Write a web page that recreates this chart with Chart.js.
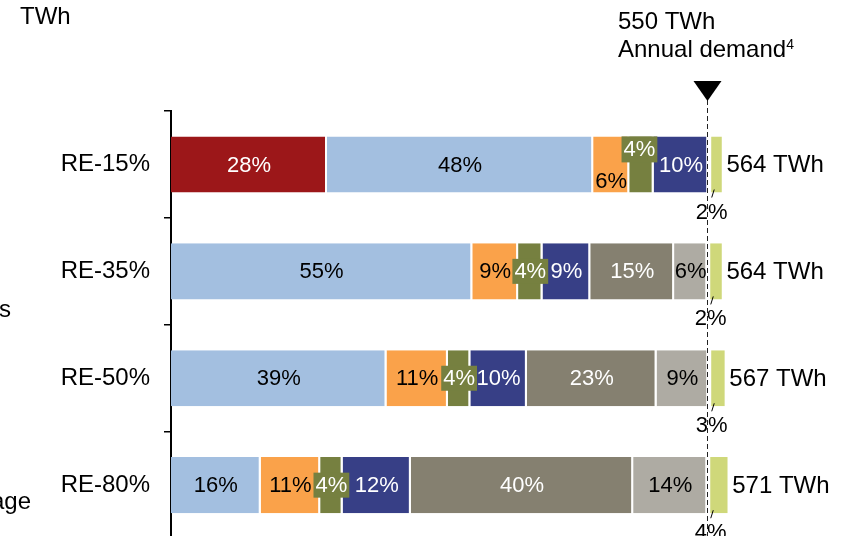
<!DOCTYPE html>
<html>
<head>
<meta charset="utf-8">
<script src="https://cdn.jsdelivr.net/npm/chart.js@4.4.1/dist/chart.umd.min.js"></script>
<style>
  html, body { margin: 0; padding: 0; background: #fff; overflow: hidden; }
  canvas { display: block; }
</style>
</head>
<body>
<canvas id="mix" width="848" height="567"></canvas>
<script>
(function () {
  const SCENARIOS = ['RE-15%', 'RE-35%', 'RE-50%', 'RE-80%'];
  const TOTALS = [564, 564, 567, 571];
  const DEMAND = 550;

  // TWh per source
  const RED = [160, null, null, null];
  const LIGHT_BLUE = [273, 309, 221, 92];
  const ORANGE = [37, 47, 63, 61];
  const OLIVE = [25, 25, 23, 23];
  const NAVY = [56, 49, 58, 70];
  const GRAY = [null, 86, 133, 228];
  const LIGHT_GRAY = [null, 34, 53, 76];
  const GREEN = [14, 15, 17, 21];

  // shares printed on the segments
  const RED_PCT = ['28%', '', '', ''];
  const LIGHT_BLUE_PCT = ['48%', '55%', '39%', '16%'];
  const ORANGE_PCT = ['6%', '9%', '11%', '11%'];
  const OLIVE_PCT = ['4%', '4%', '4%', '4%'];
  const NAVY_PCT = ['10%', '9%', '10%', '12%'];
  const GRAY_PCT = ['', '15%', '23%', '40%'];
  const LIGHT_GRAY_PCT = ['', '6%', '9%', '14%'];
  const GREEN_PCT = ['2%', '2%', '3%', '4%'];

  const FONT = "'Liberation Sans', Arial, sans-serif";

  const series = [
    { data: RED, pct: RED_PCT, color: '#9c1719', text: '#fff' },
    { data: LIGHT_BLUE, pct: LIGHT_BLUE_PCT, color: '#a3bfe0', text: '#000' },
    { data: ORANGE, pct: ORANGE_PCT, color: '#faa24a', text: '#000' },
    { data: OLIVE, pct: OLIVE_PCT, color: '#768040', text: '#fff', boxed: true },
    { data: NAVY, pct: NAVY_PCT, color: '#373f86', text: '#fff' },
    { data: GRAY, pct: GRAY_PCT, color: '#858070', text: '#fff' },
    { data: LIGHT_GRAY, pct: LIGHT_GRAY_PCT, color: '#aeaba3', text: '#000' },
    { data: GREEN, pct: GREEN_PCT, color: '#cfd87a', text: '#000', below: true },
  ];

  const datasets = series.map(s => ({
    data: s.data,
    pct: s.pct,
    textColor: s.text,
    boxed: !!s.boxed,
    below: !!s.below,
    backgroundColor: s.color,
    borderColor: '#fff',
    // green sits just past the demand line, so it gets a gap on its left
    borderSkipped: s.below ? false : 'start',
    borderWidth: s.below
      ? { top: 0, right: 0, bottom: 0, left: 3 }
      : { top: 0, right: 2, bottom: 0, left: 0 },
    barPercentage: 0.525,
    categoryPercentage: 1,
  }));

  const annotate = {
    id: 'annotate',
    afterDatasetsDraw(chart) {
      const ctx = chart.ctx;
      const xs = chart.scales.x;
      const dx = Math.round(xs.getPixelForValue(DEMAND)) + 0.5;
      ctx.save();

      // demand line + marker
      ctx.strokeStyle = '#222';
      ctx.lineWidth = 1;
      ctx.setLineDash([5, 3]);
      ctx.beginPath();
      ctx.moveTo(dx, 100);
      ctx.lineTo(dx, chart.height);
      ctx.stroke();
      ctx.setLineDash([]);
      ctx.fillStyle = '#000';
      ctx.beginPath();
      ctx.moveTo(dx - 14, 81);
      ctx.lineTo(dx + 14, 81);
      ctx.lineTo(dx, 101);
      ctx.closePath();
      ctx.fill();

      ctx.textBaseline = 'middle';
      ctx.textAlign = 'left';
      ctx.font = '24px ' + FONT;
      ctx.fillText(DEMAND + ' TWh', 618, 22);
      ctx.fillText('Annual demand', 618, 50);
      const w = ctx.measureText('Annual demand').width;
      ctx.font = '14px ' + FONT;
      ctx.fillText('4', 618 + w, 45);
      ctx.font = '24px ' + FONT;
      ctx.fillText('TWh', 20, 17);
      // legend entries cut off at the left edge
      ctx.textAlign = 'right';
      ctx.fillText('Biomass', 11, 310);
      ctx.fillText('Storage', 31, 502);

      // segment labels
      ctx.font = '22px ' + FONT;
      ctx.textAlign = 'center';
      chart.data.datasets.forEach((ds, di) => {
        const meta = chart.getDatasetMeta(di);
        meta.data.forEach((bar, i) => {
          const txt = ds.pct[i];
          if (!txt || ds.data[i] == null) return;
          const p = bar.getProps(['x', 'y', 'base', 'height'], true);
          const left = Math.min(p.x, p.base), right = Math.max(p.x, p.base);
          const top = p.y - p.height / 2, bottom = p.y + p.height / 2;
          let cx = (left + right) / 2, cy = p.y;
          if (ds.below) {
            const gx = left + 3;
            ctx.strokeStyle = '#000';
            ctx.lineWidth = 1;
            ctx.beginPath();
            ctx.moveTo(gx + 0.5, bottom + 5);
            ctx.lineTo(gx + 3, bottom - 3);
            ctx.stroke();
            ctx.fillStyle = '#000';
            ctx.fillText(txt, gx + 0.5, bottom + 20);
            return;
          }
          // first row is cramped: orange label drops low, olive label sits high
          if (i === 0 && di === 2) cy = bottom - 12;
          if (i === 0 && ds.boxed) { cx -= 2; cy = top + 13; }
          if (ds.boxed) {
            const tw = ctx.measureText(txt).width + 4;
            const bh = i === 0 ? 26 : 25;
            ctx.fillStyle = ds.backgroundColor;
            ctx.fillRect(cx - tw / 2, cy - bh / 2, tw, bh);
          }
          ctx.fillStyle = ds.textColor;
          ctx.fillText(txt, cx, cy + 1);
        });
      });

      // totals to the right of each bar
      ctx.font = '24px ' + FONT;
      ctx.textAlign = 'left';
      ctx.fillStyle = '#000';
      const last = chart.getDatasetMeta(chart.data.datasets.length - 1);
      last.data.forEach((bar, i) => {
        const p = bar.getProps(['x', 'y'], true);
        ctx.fillText(TOTALS[i] + ' TWh', p.x + 4.5, p.y + 1);
      });
      ctx.restore();
    },
  };

  new Chart(document.getElementById('mix'), {
    type: 'bar',
    data: { labels: SCENARIOS, datasets },
    plugins: [annotate],
    options: {
      indexAxis: 'y',
      responsive: false,
      animation: false,
      devicePixelRatio: 1,
      // bottom edge is set by the y tick padding; canvas runs past the window
      layout: { padding: { top: 111, right: 14, bottom: 0, left: 0 } },
      plugins: { legend: { display: false }, tooltip: { enabled: false } },
      scales: {
        x: {
          stacked: true,
          display: false,
          min: 0,
          max: 680,
        },
        y: {
          stacked: true,
          afterFit: s => { s.width = 171; },
          border: { display: true, color: '#000', width: 2 },
          grid: {
            drawOnChartArea: false,
            drawTicks: true,
            tickLength: 7,
            color: '#000',
            lineWidth: 1.5,
          },
          ticks: {
            color: '#000',
            padding: 14,
            font: { family: FONT, size: 24 },
          },
        },
      },
    },
  });
})();
</script>
</body>
</html>
